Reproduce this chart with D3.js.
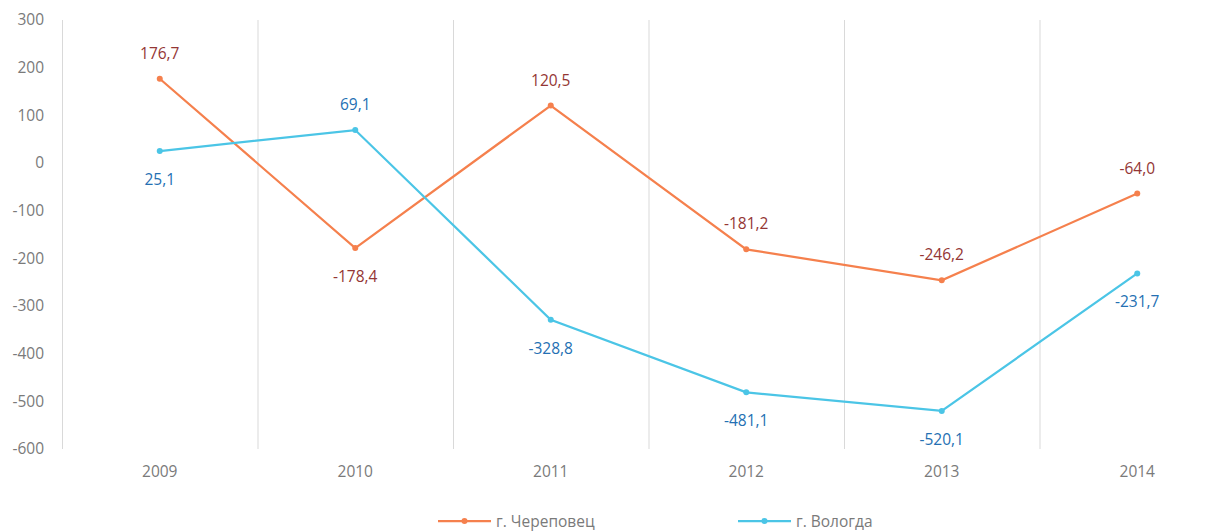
<!DOCTYPE html>
<html><head><meta charset="utf-8">
<script src="https://cdn.jsdelivr.net/npm/d3@7"></script>
<style>body{margin:0;background:#fff;overflow:hidden}svg{display:block}text{font-family:"Open Sans",sans-serif}</style>
</head><body>
<svg id="c" width="1225" height="532"></svg>
<script>
const years = ["2009","2010","2011","2012","2013","2014"];
const cherepovets = [176.7, -178.4, 120.5, -181.2, -246.2, -64.0];
const vologda = [25.1, 69.1, -328.8, -481.1, -520.1, -231.7];
const yTicks = [300,200,100,0,-100,-200,-300,-400,-500,-600];
const cherLabelPos = ["above","below","above","above","above","above"];
const volLabelPos = ["below","above","below","below","below","below"];
const seriesNames = ["г. Череповец","г. Вологда"];

const svg = d3.select("#c");
const L=62, R=1235, T=20, B=449;
const FS="15.5px", TXT="#7a7a7a";
const x = d3.scaleBand().domain(years).range([L,R]);
const y = d3.scaleLinear().domain([-600,300]).range([B,T]);
const fmt = v => d3.format(".1f")(v).replace(".",",").replace("−","-");

svg.append("g").selectAll("line").data(years.slice(1)).join("line")
  .attr("x1",d=>x(d)+0.5).attr("x2",d=>x(d)+0.5).attr("y1",T).attr("y2",B)
  .attr("stroke","#d9d9d9").attr("stroke-width",1);
svg.append("line").attr("x1",L+0.5).attr("x2",L+0.5).attr("y1",T).attr("y2",B).attr("stroke","#d9d9d9");

const ya = d3.axisLeft(y).tickValues(yTicks).tickSize(0).tickPadding(18).tickFormat(d=>d);
const gy = svg.append("g").attr("transform",`translate(${L},0)`).call(ya);
gy.select(".domain").remove();
gy.selectAll("text").attr("fill",TXT).style("font-size",FS).style("font-family","'Open Sans',sans-serif");

const xa = d3.axisBottom(x).tickSize(0).tickPadding(17);
const gx = svg.append("g").attr("transform",`translate(0,${B})`).call(xa);
gx.select(".domain").remove();
gx.selectAll("text").attr("fill",TXT).style("font-size",FS).style("font-family","'Open Sans',sans-serif");

const cx = d=>x(d)+x.bandwidth()/2;
function drawSeries(vals,color,labColor,pos){
  const data = years.map((yr,i)=>({yr,v:vals[i],p:pos[i]}));
  svg.append("path").datum(data).attr("fill","none").attr("stroke",color).attr("stroke-width",2.25)
    .attr("d",d3.line().x(d=>cx(d.yr)).y(d=>y(d.v)));
  svg.append("g").selectAll("circle").data(data).join("circle")
    .attr("cx",d=>cx(d.yr)).attr("cy",d=>y(d.v)).attr("r",3).attr("fill",color);
  svg.append("g").selectAll("text").data(data).join("text")
    .attr("x",d=>cx(d.yr)).attr("y",d=>y(d.v)+(d.p==="above"?-20:34))
    .attr("text-anchor","middle").attr("fill",labColor).style("font-size",FS)
    .text(d=>fmt(d.v));
}
drawSeries(cherepovets,"#f5804d","#943634",cherLabelPos);
drawSeries(vologda,"#4bc5e6","#2470b3",volLabelPos);

const leg = [{n:seriesNames[0],c:"#f5804d",x:438},{n:seriesNames[1],c:"#4bc5e6",x:738}];
const lg = svg.append("g").selectAll("g").data(leg).join("g").attr("transform",d=>`translate(${d.x},521)`);
lg.append("line").attr("x1",0).attr("x2",53).attr("stroke",d=>d.c).attr("stroke-width",2.25);
lg.append("circle").attr("cx",26.5).attr("r",3).attr("fill",d=>d.c);
lg.append("text").attr("x",58).attr("y",5.5).attr("fill",TXT).style("font-size",FS).text(d=>d.n);
</script>
</body></html>
